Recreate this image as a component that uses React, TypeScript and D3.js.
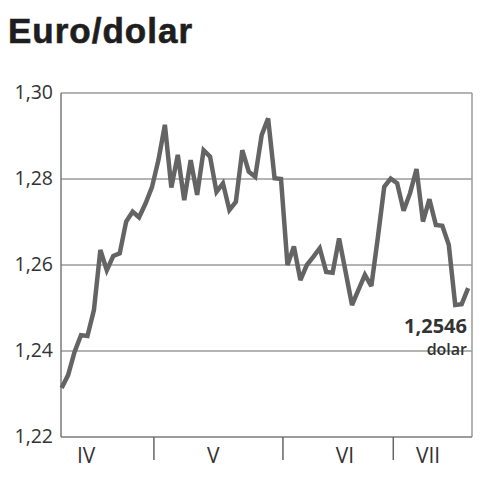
import React from "react";
import * as d3 from "d3";

const rates: number[] = [
  1.2314, 1.2344, 1.2398, 1.2437, 1.2435, 1.2495, 1.2635, 1.2588, 1.2621, 1.2627,
  1.2701, 1.2724, 1.2711, 1.2743, 1.2781, 1.2844, 1.2926, 1.278, 1.2856, 1.2751,
  1.2844, 1.2763, 1.2867, 1.2852, 1.277, 1.279, 1.2728, 1.2747, 1.2867, 1.2817,
  1.2805, 1.2902, 1.2941, 1.2802, 1.28, 1.26, 1.2643, 1.2565, 1.26, 1.2619,
  1.2639, 1.2584, 1.2582, 1.2662, 1.2585, 1.2507, 1.2542, 1.2577, 1.2551, 1.2663,
  1.2782, 1.2801, 1.279, 1.2726, 1.2767, 1.2823, 1.2701, 1.2753, 1.2693, 1.2691,
  1.2647, 1.2507, 1.2509, 1.2546,
];
const yTicks: number[] = [1.22, 1.24, 1.26, 1.28, 1.3];
const monthLabels: string[] = ["IV", "V", "VI", "VII"];
const monthLabelPos: number[] = [3.8, 23.5, 43.9, 56.8];
const monthBreaks: number[] = [14.3, 34.3, 51.4];
const title = "Euro/dolar";
const lastLabel = "1,2546";
const unitLabel = "dolar";

const L = 61, R = 472, T = 93, B = 437;

export default function App() {
  const x = d3.scaleLinear().domain([-0.1, 63.6]).range([L, R]);
  const y = d3.scaleLinear().domain([1.22, 1.3]).range([B, T]);
  const line = d3
    .line<number>()
    .x((_, i) => x(i))
    .y((d) => y(d));
  const fmt = (v: number) => v.toFixed(2).replace(".", ",");
  return (
    <svg
      width={480}
      height={480}
      style={{ position: "absolute", left: 0, top: 0, background: "#fff" }}
    >
      <text
        x={8}
        y={43}
        fontFamily="Liberation Sans, Arial, sans-serif"
        fontWeight="bold"
        fontSize={35}
        letterSpacing={1}
        fill="#1e1e1e"
        stroke="#1e1e1e"
        strokeWidth={0.6}
      >
        {title}
      </text>
      {yTicks.map((t) => (
        <g key={t}>
          {t > 1.22 && t < 1.3 && (
            <line x1={L} x2={R} y1={y(t)} y2={y(t)} stroke="#6a6a6a" strokeWidth={1.2} />
          )}
          <text
            x={53}
            y={y(t) + 6}
            textAnchor="end"
            fontFamily="Open Sans, sans-serif"
            fontSize={19.5}
            fill="#333"
          >
            {fmt(t)}
          </text>
        </g>
      ))}
      <line x1={L} x2={R} y1={T} y2={T} stroke="#9a9a9a" strokeWidth={1.5} />
      <line x1={R} x2={R} y1={T} y2={B} stroke="#9a9a9a" strokeWidth={1.5} />
      <line x1={L} x2={L} y1={T} y2={B} stroke="#7a7a7a" strokeWidth={1.5} />
      <line x1={L} x2={R} y1={B} y2={B} stroke="#7a7a7a" strokeWidth={1.5} />
      {monthBreaks.map((m) => (
        <line key={m} x1={x(m)} x2={x(m)} y1={B} y2={460} stroke="#666" strokeWidth={1.5} />
      ))}
      {monthLabels.map((m, i) => (
        <text
          key={m}
          x={x(monthLabelPos[i])}
          y={463}
          textAnchor="middle"
          fontFamily="Open Sans, sans-serif"
          fontSize={21}
          fill="#333"
        >
          {m}
        </text>
      ))}
      <path
        d={line(rates) || ""}
        fill="none"
        stroke="#646464"
        strokeWidth={4.5}
        strokeLinejoin="miter"
        strokeMiterlimit={3}
      />
      <text
        x={467}
        y={333}
        textAnchor="end"
        fontFamily="Open Sans, sans-serif"
        fontWeight="bold"
        fontSize={20}
        fill="#333"
      >
        {lastLabel}
      </text>
      <text
        x={467}
        y={355}
        textAnchor="end"
        fontFamily="Open Sans, sans-serif"
        fontWeight="600"
        fontSize={16}
        fill="#333"
      >
        {unitLabel}
      </text>
    </svg>
  );
}
